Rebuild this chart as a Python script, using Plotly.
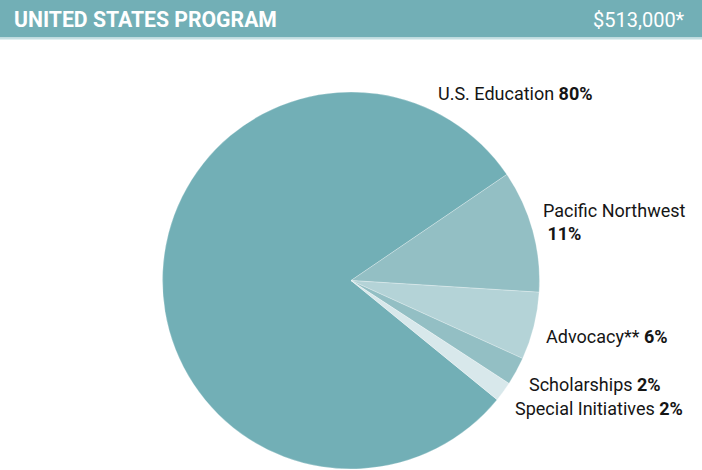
import plotly.graph_objects as go

W, H = 702, 470

categories = ["U.S. Education", "Pacific Northwest", "Advocacy**", "Scholarships", "Special Initiatives"]
values = [79.6, 10.5, 5.8, 2.4, 1.7]
pct_labels = ["80%", "11%", "6%", "2%", "2%"]
colors = ["#72afb6", "#93bfc4", "#b4d3d7", "#93bfc4", "#d8e8eb"]
title_text = "UNITED STATES PROGRAM"
total_text = "$513,000*"

cx, cy, r = 351, 280.5, 188.5

fig = go.Figure(go.Pie(
    labels=categories,
    values=values,
    sort=False,
    direction="clockwise",
    rotation=129.2,
    marker=dict(colors=colors, line=dict(color="rgba(255,255,255,0.5)", width=0.5)),
    textinfo="none",
    hoverinfo="label+percent",
    showlegend=False,
    domain=dict(x=[(cx - r) / W, (cx + r) / W], y=[(H - cy - r) / H, (H - cy + r) / H]),
))

font_family = "Roboto, 'Open Sans', sans-serif"

# label positions (px) : left x, center y
label_pos = [
    (436, 93, "{c} <b>{p}</b>"),
    (541, 221.5, "{c}<br> <b>{p}</b>"),
    (544, 336, "{c} <b>{p}</b>"),
    (527, 384, "{c} <b>{p}</b>"),
    (513, 408, "{c} <b>{p}</b>"),
]

annotations = []
for (x, y, fmt), c, p in zip(label_pos, categories, pct_labels):
    annotations.append(dict(
        x=x / W, y=1 - y / H, xref="paper", yref="paper",
        xanchor="left", yanchor="middle",
        text=fmt.format(c=c, p=p), showarrow=False, align="left",
        font=dict(family=font_family, size=18, color="#151515"),
    ))

annotations.append(dict(
    x=12 / W, y=1 - 19.5 / H, xref="paper", yref="paper", xanchor="left", yanchor="middle",
    text="<b>" + title_text + "</b>", showarrow=False,
    font=dict(family=font_family, size=21.2, color="white"),
))
annotations.append(dict(
    x=687 / W, y=1 - 19.5 / H, xref="paper", yref="paper", xanchor="right", yanchor="middle",
    text=total_text, showarrow=False,
    font=dict(family=font_family, size=20, color="white"),
))

fig.update_layout(
    width=W, height=H,
    margin=dict(l=0, r=0, t=0, b=0),
    paper_bgcolor="white", plot_bgcolor="white",
    annotations=annotations,
    shapes=[
        dict(type="rect", xref="paper", yref="paper", x0=0, x1=1, y0=1 - 37.5 / H, y1=1,
             fillcolor="#72afb6", line=dict(width=0), layer="below"),
        dict(type="rect", xref="paper", yref="paper", x0=0, x1=1, y0=1 - 39.5 / H, y1=1 - 37.5 / H,
             fillcolor="#c5e0e3", line=dict(width=0), layer="below"),
    ],
)

fig.write_html("out.html", config={"displayModeBar": False},
               post_script="document.body.style.margin='0';document.body.style.overflow='hidden';")
